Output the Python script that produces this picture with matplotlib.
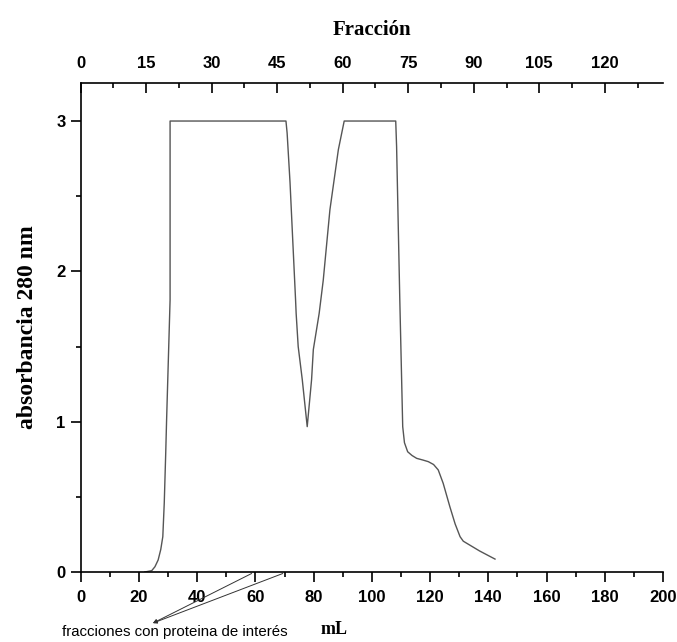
import numpy as np
import matplotlib
matplotlib.use("Agg")
import matplotlib.pyplot as plt
from matplotlib.ticker import MultipleLocator

# elution volume (mL) and absorbance at 280 nm
ml = [22.0, 24.4, 25.5, 26.6, 27.5, 28.2, 28.7, 29.2, 29.5, 30.7, 30.7, 70.5,
      70.9, 71.9, 72.7, 73.8, 74.0, 74.7, 76.1, 77.8,
      79.3, 79.9, 81.9, 83.3, 85.6, 88.5, 90.5, 108.2,
      108.5, 109.6, 110.6, 111.2, 112.3, 113.8, 115.4, 117.5, 119.4, 121.2,
      122.8, 124.5, 126.8, 128.6, 130.3, 131.4, 132.6, 137.0, 142.3]
absorb = [0.0, 0.009, 0.035, 0.08, 0.15, 0.235, 0.46, 0.79, 1.01, 1.81, 3.0, 3.0,
          2.92, 2.59, 2.26, 1.81, 1.72, 1.50, 1.28, 0.967,
          1.28, 1.48, 1.72, 1.94, 2.41, 2.81, 3.0, 3.0,
          2.83, 1.81, 0.967, 0.86, 0.80, 0.775, 0.756, 0.745, 0.734, 0.715,
          0.679, 0.59, 0.434, 0.32, 0.235, 0.205, 0.191, 0.14, 0.086]

ml_per_fraction = 1.5
frac_ticks = [0, 15, 30, 45, 60, 75, 90, 105, 120]
ml_ticks = [0, 20, 40, 60, 80, 100, 120, 140, 160, 180, 200]
abs_ticks = [0, 1, 2, 3]
arrow_targets = [58.7, 69.4]   # mL where the two arrows touch the axis

sans = ['Liberation Sans', 'DejaVu Sans']
serif = ['Liberation Serif', 'DejaVu Serif']

fig = plt.figure(figsize=(6.77, 6.42), dpi=100)
ax = fig.add_axes([80.7 / 677, 70 / 642, (663 - 80.7) / 677, (572 - 83) / 642])

ax.plot(ml, absorb, color='#555555', lw=1.0)

ax.set_xlim(0, 200)
ax.set_ylim(0, 3.253)

ax.spines['right'].set_visible(False)
ax.spines['top'].set_visible(False)
for s in ['left', 'bottom']:
    ax.spines[s].set_linewidth(1.2)

ax.set_xticks(ml_ticks)
ax.xaxis.set_minor_locator(MultipleLocator(10))
ax.set_yticks(abs_ticks)
ax.yaxis.set_minor_locator(MultipleLocator(0.5))
ax.tick_params(which='major', direction='out', length=7, width=1.2)
ax.tick_params(which='minor', direction='out', length=3.5, width=1.2)
ax.tick_params(axis='x', which='major', pad=6)
ax.tick_params(axis='y', which='major', pad=4)
for lab in ax.get_xticklabels() + ax.get_yticklabels():
    lab.set_family(sans)
    lab.set_fontweight('bold')
    lab.set_fontsize(12)

# top axis in fraction numbers
top = ax.secondary_xaxis('top', functions=(lambda x: x / ml_per_fraction,
                                           lambda f: f * ml_per_fraction))
top.set_xticks(frac_ticks)
top.xaxis.set_minor_locator(MultipleLocator(7.5))
top.spines['top'].set_linewidth(1.2)
top.tick_params(which='major', direction='in', length=7, width=1.2, pad=8.5)
top.tick_params(which='minor', direction='in', length=3.5, width=1.2)
for lab in top.get_xticklabels():
    lab.set_family(sans)
    lab.set_fontweight('bold')
    lab.set_fontsize(12)
top.set_xlabel('Fracción', family=serif, fontweight='bold', fontsize=15, labelpad=15)

ax.set_ylabel('absorbancia 280 nm', family=serif, fontweight='bold', fontsize=17, labelpad=13)

# arrows pointing to the fractions of interest
for t in arrow_targets:
    ax.annotate('', xy=(24.8, -0.34), xytext=(t, -0.01), xycoords='data',
                annotation_clip=False,
                arrowprops=dict(arrowstyle='-|>', lw=0.7, color='#333333',
                                mutation_scale=6, shrinkA=0, shrinkB=0))

fig.text(62 / 677, 1 - 632 / 642, 'fracciones con proteina de interés',
         family=sans, fontsize=10.8, va='center', ha='left')
fig.text(334 / 677, 1 - 630 / 642, 'mL', family=serif, fontweight='bold',
         fontsize=13, va='center', ha='center')

fig.savefig('out.png', dpi=100)
